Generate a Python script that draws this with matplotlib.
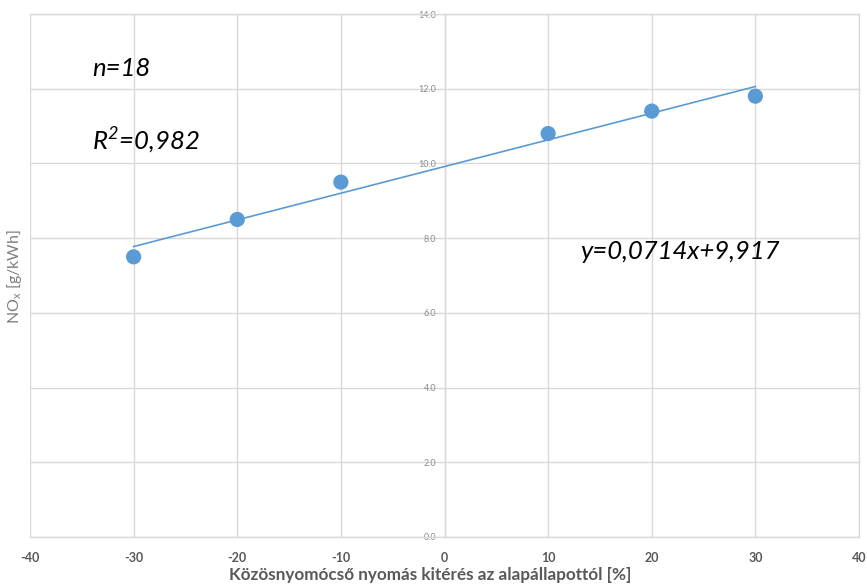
import matplotlib.pyplot as plt
import numpy as np

# measured points (pressure deviation %, NOx g/kWh)
deviation = [-30, -20, -10, 10, 20, 30]
nox = [7.5, 8.5, 9.5, 10.8, 11.4, 11.8]
slope = 0.0714
intercept = 9.917
x_ticks = [-40, -30, -20, -10, 0, 10, 20, 30, 40]
y_ticks = [0, 2, 4, 6, 8, 10, 12, 14]

BLUE = "#5B9BD5"
GRID = "#D9D9D9"

plt.rcParams["font.family"] = ["Lato", "DejaVu Sans"]
plt.rcParams["axes.unicode_minus"] = False

fig = plt.figure(figsize=(8.67, 5.87), dpi=100)
ax = fig.add_axes([30 / 867, 50 / 587, 829 / 867, 523 / 587])

ax.set_xlim(-40, 40)
ax.set_ylim(0, 14)
ax.set_xticks(x_ticks)
ax.set_yticks(y_ticks)
ax.set_yticklabels([f"{v:.1f}" for v in y_ticks])
ax.grid(True, color=GRID, linewidth=1.0, zorder=0)

for side in ("top", "right", "bottom", "left"):
    ax.spines[side].set_color(GRID)
    ax.spines[side].set_linewidth(1.0)
ax.spines["left"].set_position(("data", 0))

ax.tick_params(axis="x", length=0, pad=11, labelsize=9, labelcolor="#595959")
for label in ax.get_xticklabels():
    label.set_fontweight("bold")
ax.tick_params(axis="y", direction="out", length=5, color=GRID, pad=1,
               labelsize=6.5, labelcolor="#8C8C8C")

fit_x = np.array([min(deviation), max(deviation)])
ax.plot(fit_x, slope * fit_x + intercept, color=BLUE, linewidth=1.2, zorder=3)
ax.scatter(deviation, nox, s=120, color=BLUE, edgecolor="none", zorder=4)

ax.set_xlabel("Közösnyomócső nyomás kitérés az alapállapottól [%]",
              fontsize=12.3, fontweight="bold", color="#595959")
ax.xaxis.set_label_coords(0.4825, -0.058)
fig.text(15 / 867, 1 - 277 / 587, "NO$_\\mathregular{x}$ [g/kWh]", rotation=90,
         ha="center", va="center", fontsize=11.5, color="#7F7F7F")

text_kw = dict(fontsize=18.5, style="italic", color="black", va="center", ha="left")
ax.text(-34.0, 12.55, "n=18", **text_kw)
ax.text(-34.0, 10.63, "R$^\\mathregular{2}$=0,982", **text_kw)
ax.text(13.1, 7.63, "y=0,0714x+9,917", **text_kw)

fig.savefig("out.png", dpi=100)
